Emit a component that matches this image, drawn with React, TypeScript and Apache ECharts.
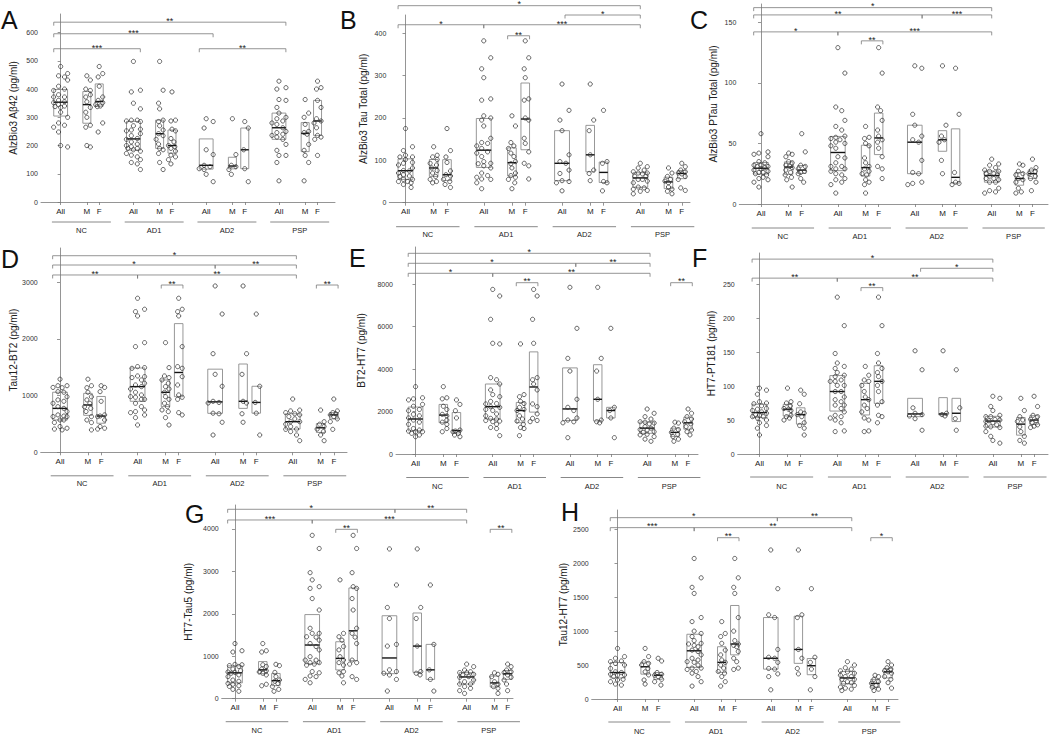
import React, { useEffect, useRef } from "react";
import * as echarts from "echarts";

const FONT = '"Liberation Sans", Arial, Helvetica, sans-serif';
const GROUPS = ["NC", "AD1", "AD2", "PSP"];
const SUBS = ["All", "M", "F"];

// ---- values per panel: [NC, AD1, AD2, PSP]; "All" = M + F ----
const A_M = [
  [447, 432, 400, 395, 380, 372, 355, 335, 318, 300, 272, 265, 200, 195],
  [498, 396, 350, 330, 290, 285, 270, 255, 242, 235, 222, 205, 190, 185, 172, 140, 115],
  [295, 168, 130, 125, 115, 98],
  [363, 315, 300, 275, 250, 246, 240, 204, 183, 165, 140, 75],
];
const A_F = [
  [480, 455, 443, 410, 372, 360, 352, 345, 340, 338, 280, 248],
  [390, 290, 287, 258, 252, 225, 213, 200, 196, 190, 180, 166, 160, 150, 135],
  [285, 262, 185, 118, 72],
  [428, 405, 400, 360, 335, 295, 287, 280, 263, 236, 230, 222, 165],
];
const B_M = [
  [132, 112, 108, 102, 93, 89, 82, 76, 70, 62, 55, 50, 47],
  [205, 181, 142, 134, 128, 117, 109, 97, 92, 82, 70, 64, 60, 55, 47, 33],
  [280, 195, 170, 113, 77, 69, 52],
  [82, 70, 62, 55, 51, 47, 37, 32, 27, 21],
];
const B_F = [
  [175, 123, 108, 95, 75, 66, 63, 55, 50, 43, 36],
  [382, 342, 316, 295, 245, 242, 200, 195, 152, 140, 120, 93, 87, 56],
  [218, 97, 93, 50, 47, 28],
  [93, 85, 77, 73, 70, 68, 62, 55, 35, 29],
];
const C_M = [
  [42, 41, 39, 35, 34, 32, 31, 30, 28, 26, 24, 22, 20, 14],
  [64, 55, 54, 50, 48, 38, 34, 31, 29, 27, 25, 24, 20, 18, 16, 9],
  [114, 65, 56, 53, 51, 36, 25],
  [33, 32, 27, 25, 24, 21, 20, 18, 13, 10, 9],
];
const C_F = [
  [58, 43, 32, 31, 29, 27, 26, 25, 21, 18],
  [129, 108, 80, 77, 69, 61, 56, 53, 51, 46, 39, 31, 29, 21],
  [112, 74, 26, 18, 17, 16],
  [37, 30, 28, 27, 25, 23, 21, 18, 11],
];
const D_M = [
  [1290, 1175, 1140, 1060, 980, 925, 865, 805, 775, 720, 630, 570, 525, 395],
  [1935, 1494, 1347, 1318, 1276, 1218, 1159, 1118, 1059, 982, 935, 865, 806, 747, 718, 612, 482],
  [2935, 1740, 1376, 900, 870, 680, 530],
  [745, 540, 495, 455, 410, 365, 305, 205],
];
const D_F = [
  [1175, 1145, 1070, 900, 660, 640, 630, 570, 455, 425, 410],
  [2718, 2524, 2482, 2406, 1865, 1512, 1482, 1335, 1188, 1012, 971, 935, 700, 659],
  [2440, 1165, 880, 690, 305],
  [940, 730, 700, 680, 660, 630, 590, 540, 405],
];
const E_M = [
  [3175, 2650, 2600, 2250, 2100, 1870, 1800, 1600, 1500, 1400, 1200, 1050],
  [5190, 2800, 2700, 2480, 2380, 2200, 2100, 2050, 1800, 1650, 1550, 1400, 1250, 1200, 865],
  [7860, 4510, 3910, 2580, 1600, 1520, 1470],
  [1500, 1460, 1220, 1150, 1020, 930, 820, 700, 600],
];
const E_F = [
  [2550, 2340, 2040, 1700, 1130, 1080, 1050, 975, 895, 815],
  [7760, 7450, 6350, 5220, 3600, 3500, 3300, 3020, 2360, 2230, 1890, 1680, 1580, 1525],
  [5925, 2200, 2050, 1700, 770],
  [2120, 1920, 1760, 1650, 1520, 1420, 1290, 1130, 1050, 900],
];
const F_M = [
  [97, 77, 75, 71, 67, 66, 64, 57, 55, 53, 50],
  [129, 116, 109, 107, 101, 92, 84, 80, 72, 67, 62, 53, 50, 34, 33],
  [152, 60, 58, 56],
  [82, 64, 55, 50, 48, 40, 33, 26, 20, 16],
];
const F_F = [
  [94, 88, 74, 62, 60, 58, 55, 46, 42, 38, 28],
  [231, 189, 148, 134, 126, 120, 114, 107, 101, 92, 77, 72, 57, 55, 46],
  [124, 68, 52, 35],
  [85, 70, 57, 55, 51, 49, 46, 43, 41, 39],
];
const G_M = [
  [1300, 1130, 1100, 800, 760, 700, 660, 630, 600, 560, 340, 305],
  [2800, 1540, 1460, 1380, 1230, 1150, 990, 910, 850, 790, 640, 610, 535, 375],
  [3530, 2150, 1890, 1240, 640, 600, 560],
  [610, 575, 520, 400, 345, 285, 245, 125],
];
const G_F = [
  [810, 780, 620, 520, 440, 410, 360, 290, 220, 175],
  [3850, 3540, 2970, 2640, 2600, 2360, 2090, 1660, 1540, 1450, 1300, 910, 850, 815, 520, 455],
  [2680, 1280, 680, 455, 180],
  [815, 755, 675, 635, 615, 560, 505, 440, 345, 190],
];
const H_M = [
  [745, 625, 550, 525, 500, 450, 400, 355, 280, 220],
  [1140, 965, 920, 820, 720, 650, 575, 540, 500, 455, 405, 380, 330, 255, 190],
  [2195, 1240, 1200, 730, 600, 450, 370],
  [350, 330, 290, 255, 230, 200, 175, 145, 125],
];
const H_F = [
  [600, 560, 390, 365, 350, 330, 290, 255, 205],
  [2070, 1785, 1645, 1555, 1200, 1000, 860, 810, 790, 770, 700, 600, 550, 455, 435],
  [1625, 615, 540, 440, 330, 135],
  [550, 500, 460, 440, 415, 400, 380, 330, 290, 240, 160],
];

// ---- significance brackets: [fromColumn, toColumn, yValue, label, fromEdge, toEdge]
// columns: 0 NC All,1 NC M,2 NC F,3 AD1 All,4 AD1 M,5 AD1 F,6 AD2 All,7 AD2 M,8 AD2 F,9 PSP All,10 PSP M,11 PSP F
const A_BR = [
  [0, 9, 637, "**", -1, 1], [0, 6, 596, "***", -1, 1], [0, 3, 543, "***", -1, 1], [6, 9, 543, "**", -1, 1],
];
const B_BR = [
  [0, 9, 465, "*", -1, 0], [6, 9, 443, "*", 0.4, 0], [0, 3, 420, "*", -1, 0], [3, 9, 420, "***", 0, 0], [4, 5, 394, "**", -1, 1],
];
const C_BR = [
  [0, 9, 162, "*", -1, 0], [0, 6, 156, "**", -1, 1], [6, 9, 156, "***", 1, 0], [0, 3, 142, "*", -1, 0], [3, 9, 142, "***", 0, 0], [4, 5, 134.6, "**", -1, 1],
];
const D_BR = [
  [0, 9, 3469, "*", -1, 0.5], [0, 6, 3305, "*", -1, 0], [6, 9, 3305, "**", 0, 0.5], [0, 3, 3129, "**", -1, 0], [3, 9, 3129, "**", 0, 0.5], [4, 5, 2952, "**", -1, 1], [10, 11, 2952, "**", -1, 1],
];
const E_BR = [
  [0, 9, 9462, "*", -1, 0.4], [0, 6, 8991, "*", -1, 0.8], [6, 9, 8991, "**", 0.8, 0.4], [0, 3, 8520, "*", -1, 0], [3, 9, 8520, "**", 0, 0.4], [4, 5, 8077, "**", -1, 1], [10, 11, 8077, "**", -1, 1],
];
const F_BR = [
  [0, 9, 287, "*", -1, 0], [6, 9, 273.5, "*", 0.75, 0], [0, 3, 259, "**", -1, 0], [3, 9, 259, "**", 0, 0], [4, 5, 245, "**", -1, 1],
];
const G_BR = [
  [0, 6, 4464, "*", -1, 0.75], [6, 9, 4464, "**", 0.75, 0], [0, 3, 4212, "***", -1, 0], [3, 9, 4212, "***", 0, 0], [4, 5, 3992, "**", -1, 1], [10, 11, 3992, "**", -1, 1],
];
const H_BR = [
  [0, 6, 2671, "*", -1, 0.9], [6, 9, 2671, "**", 0.9, 0.6], [0, 3, 2524, "***", -1, 0], [3, 9, 2524, "**", 0, 0.6], [4, 5, 2376, "**", -1, 1], [10, 11, 2376, "*", -1, 1],
];

// ---- y tick labels ----
const A_TICKS = [0, 100, 200, 300, 400, 500, 600];
const B_TICKS = [0, 100, 200, 300, 400];
const C_TICKS = [0, 50, 100, 150];
const D_TICKS = [0, 1000, 2000, 3000];
const E_TICKS = [0, 2000, 4000, 6000, 8000];
const F_TICKS = [0, 50, 100, 150, 200, 250];
const G_TICKS = [0, 1000, 2000, 3000, 4000];
const H_TICKS = [0, 500, 1000, 1500, 2000, 2500];

const PANELS = [
  { key: "A", title: "AlzBio3 Aβ42 (pg/ml)", M: A_M, F: A_F, br: A_BR, ticks: A_TICKS,
    L: { left: 41, top: 14, right: 335, bottom: 202, xMin: -0.27, xMax: 3.77, yMax: 666, lx: 1, ly: 20, gap: 22.7, gl: 20, gt: 28.5 } },
  { key: "B", title: "AlzBio3 Tau Total (pg/ml)", M: B_M, F: B_F, br: B_BR, ticks: B_TICKS,
    L: { left: 389.3, top: 15, right: 690, bottom: 202.7, xMin: -0.207, xMax: 3.635, yMax: 443, lx: 340, ly: 20, gap: 21, gl: 24, gt: 32 } },
  { key: "C", title: "AlzBio3 PTau Total (pg/ml)", M: C_M, F: C_F, br: C_BR, ticks: C_TICKS,
    L: { left: 739.3, top: 4, right: 1048, bottom: 204, xMin: -0.282, xMax: 3.732, yMax: 165, lx: 690, ly: 20, gap: 21, gl: 24, gt: 32 } },
  { key: "D", title: "Tau12-BT2 (pg/ml)", M: D_M, F: D_F, br: D_BR, ticks: D_TICKS,
    L: { left: 40.7, top: 248, right: 347, bottom: 452.3, xMin: -0.249, xMax: 3.70, yMax: 3605, lx: 1, ly: 258.5, gap: 22.4, gl: 23.5, gt: 31.5 } },
  { key: "E", title: "BT2-HT7 (pg/ml)", M: E_M, F: E_F, br: E_BR, ticks: E_TICKS,
    L: { left: 396, top: 247, right: 698, bottom: 454, xMin: -0.253, xMax: 3.659, yMax: 9760, lx: 349, ly: 257.5, gap: 30, gl: 23.5, gt: 32.5 } },
  { key: "F", title: "HT7-PT181 (pg/ml)", M: F_M, F: F_F, br: F_BR, ticks: F_TICKS,
    L: { left: 737.7, top: 253, right: 1048, bottom: 454, xMin: -0.28, xMax: 3.709, yMax: 296, lx: 692, ly: 258, gap: 21, gl: 23, gt: 32 } },
  { key: "G", title: "HT7-Tau5 (pg/ml)", M: G_M, F: G_F, br: G_BR, ticks: G_TICKS,
    L: { left: 221.7, top: 505, right: 513, bottom: 698.7, xMin: -0.172, xMax: 3.60, yMax: 4565, lx: 185, ly: 514, gap: 28, gl: 23, gt: 31.5 } },
  { key: "H", title: "Tau12-HT7 (pg/ml)", M: H_M, F: H_F, br: H_BR, ticks: H_TICKS,
    L: { left: 591.7, top: 510, right: 898, bottom: 699, xMin: -0.337, xMax: 3.66, yMax: 2784, lx: 561, ly: 512, gap: 23, gl: 23, gt: 32.5 } },
];

const SUB_POS = [0, 0.36, 0.53];
const colX = (c: number) => Math.floor(c / 3) + SUB_POS[c % 3];
const halfW = (c: number) => (c % 3 === 0 ? 0.095 : 0.055);
const COL_POS = Array.from({ length: 12 }, (_, c) => colX(c));

function quantile(sorted: number[], q: number) {
  const pos = (sorted.length - 1) * q;
  const lo = Math.floor(pos);
  const hi = Math.ceil(pos);
  return sorted[lo] + (sorted[hi] - sorted[lo]) * (pos - lo);
}

// deterministic swarm layout of the points inside a column
const PATTERN = [0, 0.55, -0.55, 1, -1, 0.3, -0.3, 0.8, -0.8];
function swarm(vals: number[], center: number, maxPx: number, sx: number, sy: number) {
  const order = vals.map((_, i) => i).sort((a, b) => vals[b] - vals[a]);
  const placed: { px: number; py: number }[] = [];
  const out: number[] = new Array(vals.length);
  order.forEach((idx, k) => {
    const py = vals[idx] * sy;
    let best = 0;
    let bestD = -1;
    for (let j = 0; j < PATTERN.length; j++) {
      const cand = PATTERN[(j + k * 3) % PATTERN.length] * maxPx;
      let minD = Infinity;
      for (const p of placed) {
        const d = Math.hypot(p.px - cand, p.py - py);
        if (d < minD) minD = d;
      }
      if (minD >= 4.2) { best = cand; bestD = minD; break; }
      if (minD > bestD) { bestD = minD; best = cand; }
    }
    placed.push({ px: best, py });
    out[idx] = center + best / sx;
  });
  return out;
}

function buildOption() {
  const grid: any[] = [];
  const xAxis: any[] = [];
  const yAxis: any[] = [];
  const series: any[] = [];
  const graphic: any[] = [];
  const axisColor = "#7a7a7a";

  PANELS.forEach((p, i) => {
    const L = p.L;
    const w = L.right - L.left;
    const h = L.bottom - L.top;
    grid.push({ left: L.left, top: L.top, width: w, height: h });
    const sx = w / (L.xMax - L.xMin);
    const sy = h / L.yMax;

    xAxis.push({
      type: "value", gridIndex: i, min: L.xMin, max: L.xMax,
      axisLine: { show: true, lineStyle: { color: axisColor, width: 0.8 } },
      axisTick: { show: true, customValues: COL_POS, length: 3, lineStyle: { color: axisColor, width: 0.8 } },
      axisLabel: {
        customValues: COL_POS, fontSize: 8, margin: 5, color: "#222", fontFamily: FONT,
        formatter: (v: number) => {
          for (let c = 0; c < 12; c++) if (Math.abs(COL_POS[c] - v) < 1e-6) return SUBS[c % 3];
          return "";
        },
      },
      splitLine: { show: false },
    });
    yAxis.push({
      type: "value", gridIndex: i, min: 0, max: L.yMax,
      name: p.title, nameLocation: "middle", nameGap: L.gap, nameRotate: 90,
      nameTextStyle: { fontSize: 10, color: "#222", fontFamily: FONT },
      axisLine: { show: true, lineStyle: { color: axisColor, width: 0.8 } },
      axisTick: { show: true, customValues: p.ticks, length: 3, lineStyle: { color: axisColor, width: 0.8 } },
      axisLabel: { customValues: p.ticks, fontSize: 7, margin: 3, color: "#333", fontFamily: FONT, formatter: (v: number) => String(v) },
      splitLine: { show: false },
    });

    const cols: number[][] = [];
    for (let g = 0; g < 4; g++) cols.push(p.M[g].concat(p.F[g]), p.M[g], p.F[g]);

    const boxData = cols.map((vals, c) => {
      const s = [...vals].sort((a, b) => a - b);
      return [colX(c), quantile(s, 0.25), quantile(s, 0.5), quantile(s, 0.75), halfW(c)];
    });
    series.push({
      type: "custom", xAxisIndex: i, yAxisIndex: i, data: boxData, clip: false, silent: true, z: 2,
      renderItem: (params: any, api: any) => {
        const x = api.value(0), q1 = api.value(1), med = api.value(2), q3 = api.value(3), hw = api.value(4);
        const a = api.coord([x - hw, q3]);
        const b = api.coord([x + hw, q1]);
        const m = api.coord([x, med]);
        return {
          type: "group",
          children: [
            { type: "rect", shape: { x: a[0], y: a[1], width: b[0] - a[0], height: b[1] - a[1] }, style: { fill: "none", stroke: "#8c8c8c", lineWidth: 0.9 } },
            { type: "line", shape: { x1: a[0], y1: m[1], x2: b[0], y2: m[1] }, style: { stroke: "#111", lineWidth: 1.4 } },
          ],
        };
      },
    });

    const pts: number[][] = [];
    cols.forEach((vals, c) => {
      const xs = swarm(vals, colX(c), c % 3 === 0 ? 7 : 3.5, sx, sy);
      vals.forEach((v, k) => pts.push([xs[k], v]));
    });
    series.push({
      type: "scatter", xAxisIndex: i, yAxisIndex: i, data: pts, symbol: "circle", symbolSize: 4.2, silent: true, z: 3,
      itemStyle: { color: "rgba(255,255,255,0)", borderColor: "#333", borderWidth: 0.75, opacity: 1 },
    });

    const brs = p.br;
    series.push({
      type: "custom", xAxisIndex: i, yAxisIndex: i, clip: false, silent: true, z: 4,
      data: brs.map((b: any) => [colX(b[0]) + b[4] * halfW(b[0]), colX(b[1]) + b[5] * halfW(b[1]), b[2]]),
      renderItem: (params: any, api: any) => {
        const a = api.coord([api.value(0), api.value(2)]);
        const b = api.coord([api.value(1), api.value(2)]);
        const label = brs[params.dataIndex][3];
        return {
          type: "group",
          children: [
            { type: "polyline", shape: { points: [[a[0], a[1] + 3.5], [a[0], a[1]], [b[0], b[1]], [b[0], b[1] + 3.5]] }, style: { fill: "none", stroke: "#7a7a7a", lineWidth: 0.8 } },
            { type: "text", x: (a[0] + b[0]) / 2, y: a[1] - 1.2, style: { text: label, fontSize: 9, fontFamily: FONT, fill: "#222", align: "center", verticalAlign: "middle" } },
          ],
        };
      },
    });

    series.push({
      type: "custom", xAxisIndex: i, yAxisIndex: i, clip: false, silent: true, z: 4,
      data: GROUPS.map((_, g) => [g - 0.12, g + SUB_POS[2] + 0.16]),
      renderItem: (params: any, api: any) => {
        const a = api.coord([api.value(0), 0]);
        const b = api.coord([api.value(1), 0]);
        return {
          type: "group",
          children: [
            { type: "line", shape: { x1: a[0], y1: a[1] + L.gl, x2: b[0], y2: b[1] + L.gl }, style: { stroke: "#7a7a7a", lineWidth: 0.9 } },
            { type: "text", x: (a[0] + b[0]) / 2, y: a[1] + L.gt, style: { text: GROUPS[params.dataIndex], fontSize: 7.5, fontFamily: FONT, fill: "#222", align: "center", verticalAlign: "middle" } },
          ],
        };
      },
    });

    graphic.push({
      type: "text", x: L.lx, y: L.ly, silent: true,
      style: { text: p.key, fontSize: 25, fontFamily: FONT, fill: "#111", align: "left", verticalAlign: "middle" },
    });
  });

  return { animation: false, backgroundColor: "#fff", grid, xAxis, yAxis, series, graphic };
}

export default function App() {
  const ref = useRef<HTMLDivElement>(null);
  useEffect(() => {
    if (!ref.current) return;
    const chart = echarts.init(ref.current, undefined, { renderer: "svg" });
    chart.setOption(buildOption() as any);
    return () => chart.dispose();
  }, []);
  return <div ref={ref} style={{ position: "fixed", left: 0, top: 0, width: 1050, height: 736 }} />;
}
